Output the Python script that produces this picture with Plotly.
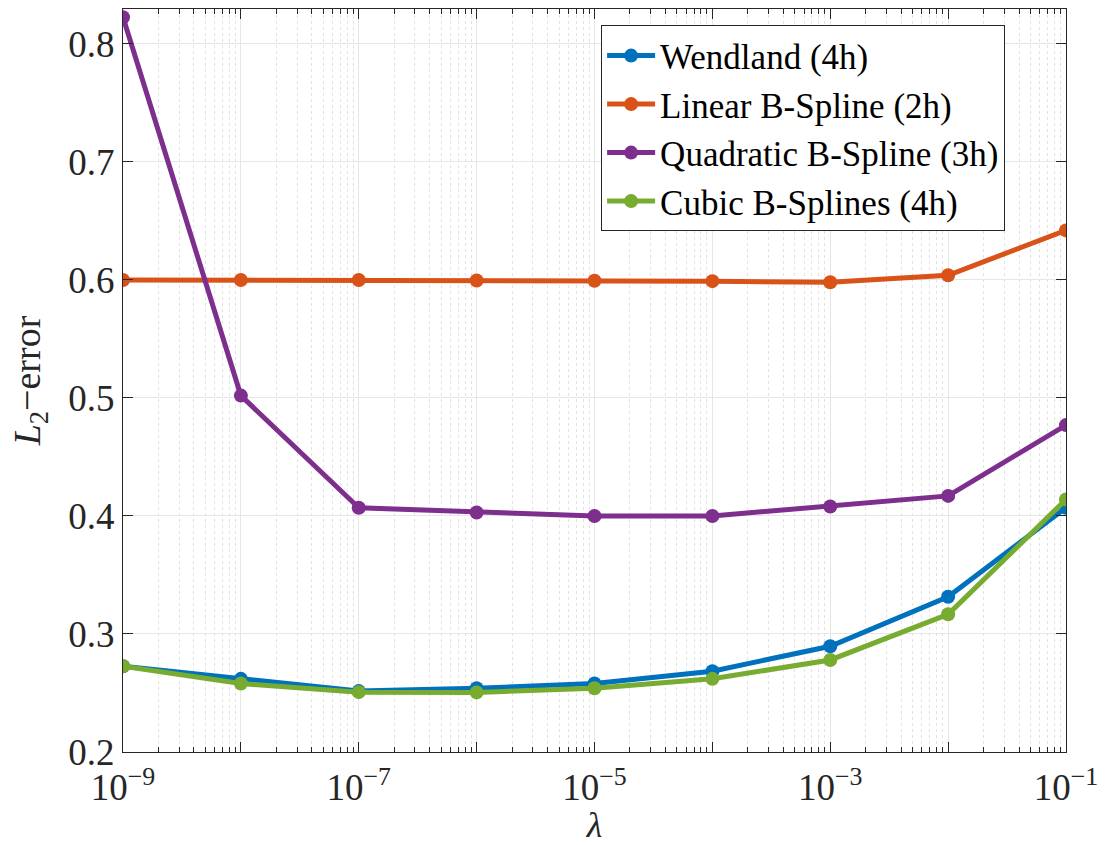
import plotly.graph_objects as go

lam = [1e-9, 1e-8, 1e-7, 1e-6, 1e-5, 1e-4, 1e-3, 1e-2, 1e-1]
wendland = [0.2727, 0.262, 0.2516, 0.254, 0.258, 0.2685, 0.2896, 0.3316, 0.407]
linear = [0.600, 0.600, 0.600, 0.5995, 0.5993, 0.599, 0.598, 0.604, 0.642]
quadratic = [0.8226, 0.502, 0.407, 0.403, 0.400, 0.400, 0.408, 0.417, 0.477]
cubic = [0.2727, 0.258, 0.2507, 0.2505, 0.254, 0.262, 0.278, 0.3167, 0.414]

names = ["Wendland (4h)", "Linear B-Spline (2h)", "Quadratic B-Spline (3h)", "Cubic B-Splines (4h)"]
colors = ["#0072BD", "#D95319", "#7E2F8E", "#77AC30"]
series = [wendland, linear, quadratic, cubic]

xtick_vals = [1e-9, 1e-8, 1e-7, 1e-6, 1e-5, 1e-4, 1e-3, 1e-2, 1e-1]
xtick_text = ["10<sup>−9</sup>", "", "10<sup>−7</sup>", "", "10<sup>−5</sup>", "", "10<sup>−3</sup>", "", "10<sup>−1</sup>"]
ytick_vals = [0.2, 0.3, 0.4, 0.5, 0.6, 0.7, 0.8]
ytick_text = ["0.2", "0.3", "0.4", "0.5", "0.6", "0.7", "0.8"]
minor_vals = [m * 10.0 ** e for e in range(-9, -1) for m in range(2, 10)]

FONT = "'Liberation Serif', 'DejaVu Serif', serif"
INK = "#262626"

fig = go.Figure()
for name, col, ys in zip(names, colors, series):
    fig.add_trace(go.Scatter(
        x=lam, y=ys, name=name, mode="lines+markers",
        line=dict(color=col, width=5),
        marker=dict(color=col, size=14, symbol="circle"),
    ))

fig.update_layout(
    width=1110, height=845,
    margin=dict(l=123, r=44, t=9, b=93),
    paper_bgcolor="white", plot_bgcolor="white",
    font=dict(family=FONT, size=34, color=INK),
    showlegend=True,
    legend=dict(
        x=0.507, y=0.978, xanchor="left", yanchor="top",
        bgcolor="white", bordercolor=INK, borderwidth=1,
        font=dict(family=FONT, size=35, color="black"),
        itemwidth=48, tracegroupgap=0,
    ),
)

fig.update_xaxes(
    type="log", range=[-9, -1], automargin=False,
    tickvals=xtick_vals, ticktext=xtick_text,
    ticks="inside", ticklen=10, tickcolor=INK, tickwidth=1,
    showline=True, linecolor=INK, linewidth=1, mirror="ticks",
    showgrid=True, gridcolor="#e6e6e6", gridwidth=1,
    tickfont=dict(family=FONT, size=37, color=INK),
    ticklabelstandoff=3,
    minor=dict(tickvals=minor_vals, showgrid=True, gridcolor="#e2e2e2",
               griddash="dot", gridwidth=1, ticks="inside", ticklen=5, tickcolor=INK),
    title=dict(text="<i>λ</i>", font=dict(family=FONT, size=36, color=INK), standoff=5),
    zeroline=False,
)
fig.update_yaxes(
    range=[0.2, 0.8296], automargin=False,
    tickvals=ytick_vals, ticktext=ytick_text,
    ticks="inside", ticklen=10, tickcolor=INK, tickwidth=1,
    showline=True, linecolor=INK, linewidth=1, mirror="ticks",
    showgrid=True, gridcolor="#e6e6e6", gridwidth=1,
    tickfont=dict(family=FONT, size=37, color=INK),
    title=dict(text="<i>L</i><sub>2</sub>−error", font=dict(family=FONT, size=38, color=INK), standoff=16),
    zeroline=False,
)

fig.write_html("out.html")
